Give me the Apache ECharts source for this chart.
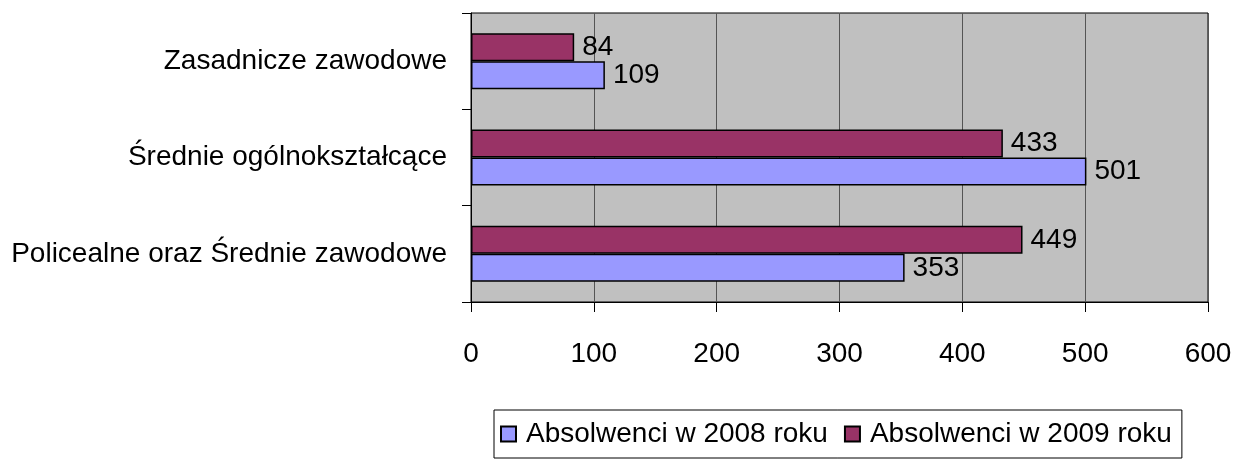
<!DOCTYPE html>
<html>
<head>
<meta charset="utf-8">
<script src="https://cdn.jsdelivr.net/npm/echarts@6/dist/echarts.min.js"></script>
<style>
  html, body { margin: 0; padding: 0; background: #fff; }
  #chart { width: 1235px; height: 464px; }
</style>
</head>
<body>
<div id="chart"></div>
<script>
// kategorie od dołu do góry (oś kategorii w ECharts rośnie w górę)
const categories = ['Policealne oraz Średnie zawodowe', 'Średnie ogólnokształcące', 'Zasadnicze zawodowe'];
const grads2008 = [353, 501, 109];
const grads2009 = [449, 433, 84];
const xTicks = [0, 100, 200, 300, 400, 500, 600];

const FONT = 'Liberation Sans, Arial, sans-serif';

const chart = echarts.init(document.getElementById('chart'));

const barLabel = {
  show: true,
  position: 'right',
  distance: 8,
  color: '#000',
  fontSize: 28,
  fontFamily: FONT
};

chart.setOption({
  animation: false,
  textStyle: { fontFamily: FONT },
  grid: {
    left: 471,
    top: 13,
    right: 27,
    bottom: 162,
    show: true,
    backgroundColor: '#C0C0C0',
    borderColor: '#000',
    borderWidth: 1
  },
  legend: {
    top: 410,
    left: 494,
    icon: 'rect',
    itemWidth: 15,
    itemHeight: 15,
    itemGap: 16,
    padding: [10, 10, 10, 6],
    borderColor: '#000',
    borderWidth: 1,
    textStyle: { fontSize: 28, color: '#000', fontFamily: FONT, padding: [0, 0, 0, 5] },
    data: ['Absolwenci w 2008 roku', 'Absolwenci w 2009 roku']
  },
  xAxis: {
    type: 'value',
    min: xTicks[0],
    max: xTicks[xTicks.length - 1],
    interval: 100,
    axisLine: { show: true, lineStyle: { color: '#000', width: 1 } },
    axisTick: { show: true, length: 10, lineStyle: { color: '#000' } },
    axisLabel: { fontSize: 28, color: '#000', margin: 38, fontFamily: FONT },
    splitLine: { show: true, lineStyle: { color: '#555', width: 1 } }
  },
  yAxis: {
    type: 'category',
    data: categories,
    axisLine: { show: true, lineStyle: { color: '#000', width: 1 } },
    axisTick: { show: true, length: 9, inside: false, lineStyle: { color: '#000' } },
    axisLabel: { fontSize: 28, color: '#000', margin: 24, fontFamily: FONT }
  },
  // 2009 rysowany jako pierwszy, żeby był nad 2008 w każdej grupie
  series: [
    {
      name: 'Absolwenci w 2009 roku',
      type: 'bar',
      data: grads2009,
      barWidth: 28,
      barGap: '0%',
      itemStyle: { color: '#993366', borderColor: '#000', borderWidth: 1.5 },
      label: barLabel
    },
    {
      name: 'Absolwenci w 2008 roku',
      type: 'bar',
      data: grads2008,
      barWidth: 28,
      barGap: '0%',
      itemStyle: { color: '#9999FF', borderColor: '#000', borderWidth: 1.5 },
      label: barLabel
    }
  ]
});
</script>
</body>
</html>
